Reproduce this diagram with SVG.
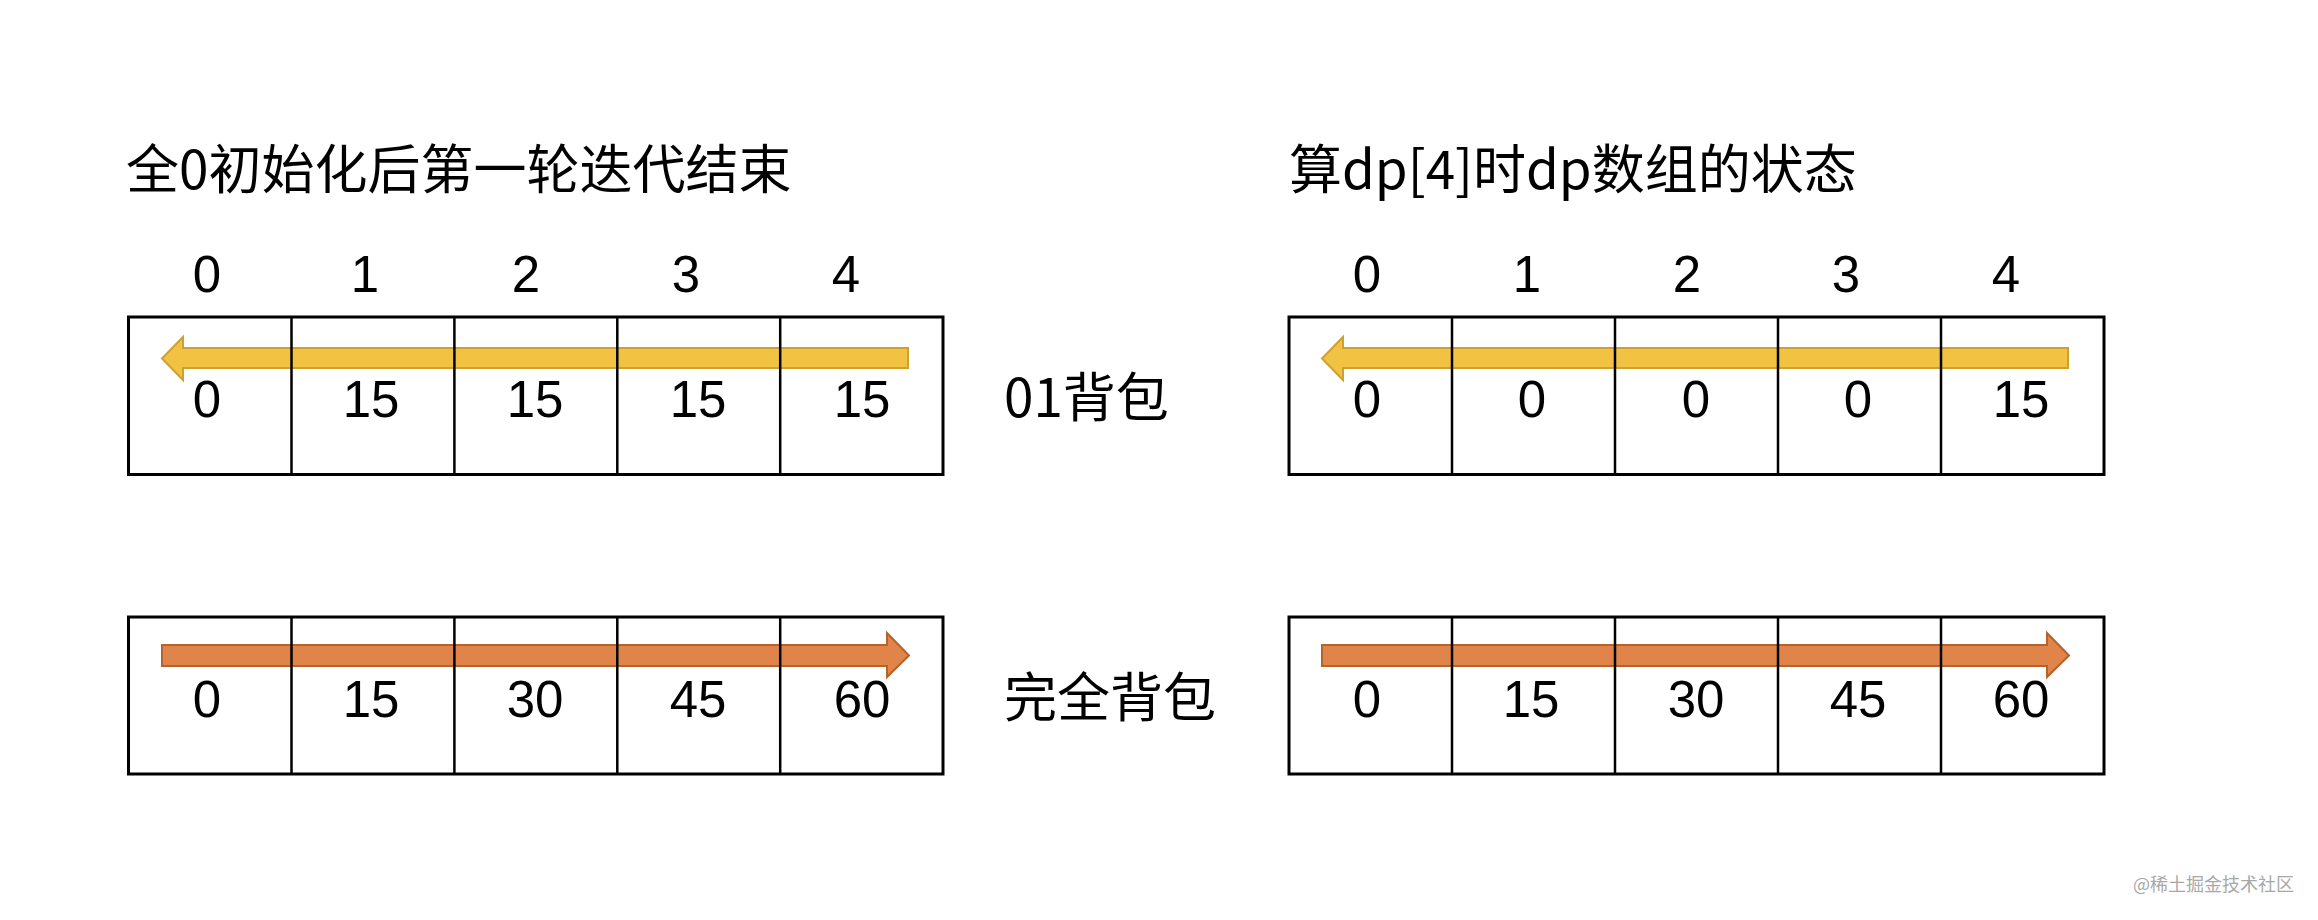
<svg xmlns="http://www.w3.org/2000/svg" width="2318" height="920" viewBox="0 0 2318 920">
<style>
.t{font-family:"Noto Sans CJK SC","Noto Sans",sans-serif;font-size:53px;fill:#000}
.d{font-family:"Liberation Sans",Arial,sans-serif;font-size:51px;fill:#000;text-anchor:middle}
.box{fill:#fff;stroke:#000;stroke-width:3}
.div{stroke:#000;stroke-width:2.5}
.ya{fill:#F2C343;stroke:#CFA030;stroke-width:2}
.oa{fill:#E0844A;stroke:#B5622D;stroke-width:2}
.wm{font-family:"Noto Sans CJK SC",sans-serif;font-size:18px;fill:#a8a8a8}
</style>
<rect width="2318" height="920" fill="#fff"/>
<g id="title-left"><text class="t" x="126" y="189">全0初始化后第一轮迭代结束</text></g>
<g id="title-right"><text class="t" x="1289" y="189">算dp[4]时dp数组的状态</text></g>
<g id="index-left">
<text class="d" x="207" y="292">0</text><text class="d" x="365" y="292">1</text><text class="d" x="526" y="292">2</text><text class="d" x="686" y="292">3</text><text class="d" x="846" y="292">4</text>
</g>
<g id="index-right">
<text class="d" x="1367" y="292">0</text><text class="d" x="1527" y="292">1</text><text class="d" x="1687" y="292">2</text><text class="d" x="1846" y="292">3</text><text class="d" x="2006" y="292">4</text>
</g>
<g id="table-01-left">
<rect class="box" x="128.5" y="317" width="814.5" height="157.5"/>
</g>
<g id="table-01-right">
<rect class="box" x="1289" y="317" width="815" height="157.5"/>
</g>
<g id="table-full-left">
<rect class="box" x="128.5" y="617" width="814.5" height="157"/>
</g>
<g id="table-full-right">
<rect class="box" x="1289" y="617" width="815" height="157"/>
</g>
<g id="connectors">
<path class="ya" d="M162,358.5 L183,337 L183,348 L908,348 L908,368 L183,368 L183,380 Z"/>
<path class="ya" d="M1322,358.5 L1343,337 L1343,348 L2068,348 L2068,368 L1343,368 L1343,380 Z"/>
<path class="oa" d="M162,645 L887,645 L887,633 L909,655.5 L887,677 L887,666 L162,666 Z"/>
<path class="oa" d="M1322,645 L2047,645 L2047,633 L2069,655.5 L2047,677 L2047,666 L1322,666 Z"/>
</g>
<g id="dividers">
<path class="div" d="M291.5,317V474.5M454.4,317V474.5M617.3,317V474.5M780.2,317V474.5"/>
<path class="div" d="M1452,317V474.5M1615,317V474.5M1778,317V474.5M1941,317V474.5"/>
<path class="div" d="M291.5,617V774M454.4,617V774M617.3,617V774M780.2,617V774"/>
<path class="div" d="M1452,617V774M1615,617V774M1778,617V774M1941,617V774"/>
</g>
<g id="values-01-left">
<text class="d" x="207" y="417">0</text><text class="d" x="371" y="417">15</text><text class="d" x="535" y="417">15</text><text class="d" x="698" y="417">15</text><text class="d" x="862" y="417">15</text>
</g>
<g id="values-01-right">
<text class="d" x="1367" y="417">0</text><text class="d" x="1532" y="417">0</text><text class="d" x="1696" y="417">0</text><text class="d" x="1858" y="417">0</text><text class="d" x="2021" y="417">15</text>
</g>
<g id="values-full-left">
<text class="d" x="207" y="717">0</text><text class="d" x="371" y="717">15</text><text class="d" x="535" y="717">30</text><text class="d" x="698" y="717">45</text><text class="d" x="862" y="717">60</text>
</g>
<g id="values-full-right">
<text class="d" x="1367" y="717">0</text><text class="d" x="1531" y="717">15</text><text class="d" x="1696" y="717">30</text><text class="d" x="1858" y="717">45</text><text class="d" x="2021" y="717">60</text>
</g>
<g id="label-01"><text class="t" x="1004" y="417">01背包</text></g>
<g id="label-full"><text class="t" x="1004" y="717">完全背包</text></g>
<g id="watermark"><text class="wm" x="2133" y="891">@稀土掘金技术社区</text></g>
</svg>
